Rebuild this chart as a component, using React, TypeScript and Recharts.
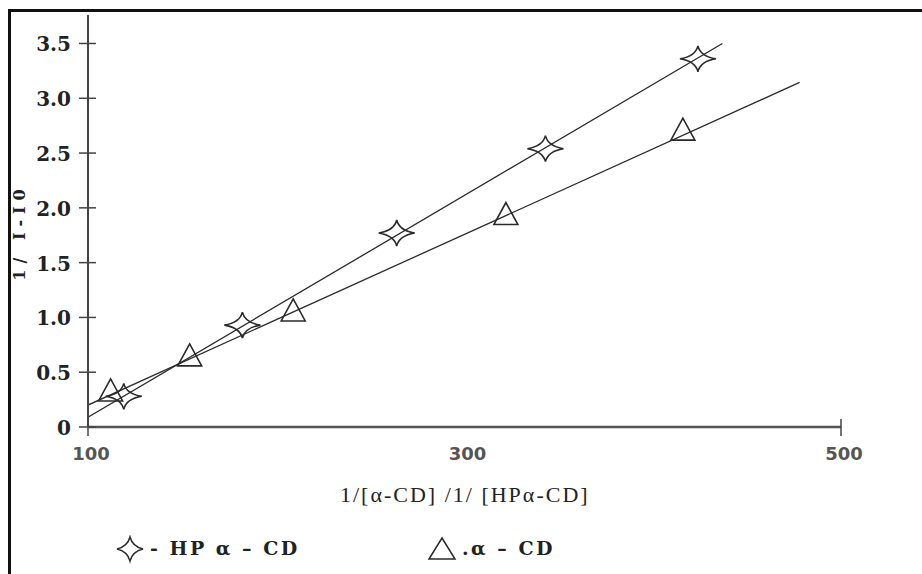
import React from 'react'
import { ComposedChart, XAxis, YAxis, Line, Scatter } from 'recharts'

// 1/[CD] values (x) and 1/(I-I0) values (y)
const hpX = [119, 182, 264, 343, 424]
const hpY = [0.28, 0.93, 1.77, 2.54, 3.36]
const cdX = [112, 154, 209, 322, 416]
const cdY = [0.32, 0.64, 1.05, 1.93, 2.7]

// end points of the fitted lines
const hpFitX = [100, 437]
const hpFitY = [0.09, 3.5]
const cdFitX = [100, 478]
const cdFitY = [0.2, 3.145]

const xTicks = [100, 300, 500]
const yTicks = [0, 0.5, 1, 1.5, 2, 2.5, 3, 3.5]

const zip = (xs: number[], ys: number[]) => xs.map((x, i) => ({ x, y: ys[i] }))

const hpPoints = zip(hpX, hpY)
const cdPoints = zip(cdX, cdY)
const hpFit = zip(hpFitX, hpFitY)
const cdFit = zip(cdFitX, cdFitY)

const INK = '#2a2a2a'

function starPath(cx: number, cy: number, w: number, h: number) {
  const k = 2.5
  return `M${cx},${cy - h} Q${cx + k},${cy - k} ${cx + w},${cy} Q${cx + k},${cy + k} ${cx},${cy + h} Q${cx - k},${cy + k} ${cx - w},${cy} Q${cx - k},${cy - k} ${cx},${cy - h} Z`
}

const StarShape = (props: any) => {
  const { cx, cy } = props
  return <path d={starPath(cx, cy, 18, 13)} fill="none" stroke={INK} strokeWidth={1.6} />
}

const TriangleShape = (props: any) => {
  const { cx, cy } = props
  return (
    <polygon
      points={`${cx},${cy - 13} ${cx + 12},${cy + 9} ${cx - 12},${cy + 9}`}
      fill="none"
      stroke={INK}
      strokeWidth={1.6}
    />
  )
}

const YTick = (props: any) => {
  const { x, y, payload } = props
  const v = payload.value
  const label = v === 0 ? '0' : v.toFixed(1)
  return (
    <g>
      <line x1={x - 9} x2={x + 8} y1={y} y2={y} stroke="#444" strokeWidth={1.5} />
      <text
        x={x - 17}
        y={y + 8}
        textAnchor="end"
        fontFamily="'DejaVu Serif', serif"
        fontWeight="bold"
        fontSize={20}
        fill="#222"
      >
        {label}
      </text>
    </g>
  )
}

const XTick = (props: any) => {
  const { x, y, payload } = props
  const v = payload.value
  return (
    <g>
      {v !== 300 && <line x1={x} x2={x} y1={y - 8} y2={y + 9} stroke="#444" strokeWidth={1.5} />}
      <text
        x={x + 3}
        y={y + 33}
        textAnchor="middle"
        fontFamily="'DejaVu Sans', sans-serif"
        fontWeight="bold"
        fontSize={18}
        fill="#555"
      >
        {v}
      </text>
    </g>
  )
}

const legendText: React.CSSProperties = {
  position: 'absolute',
  top: 536,
  fontFamily: "'DejaVu Serif', serif",
  fontWeight: 'bold',
  fontSize: 19,
  letterSpacing: 2.5,
  color: '#222',
  whiteSpace: 'nowrap',
  lineHeight: '24px',
}

export default function App() {
  return (
    <div
      style={{
        position: 'absolute',
        left: 0,
        top: 0,
        width: 922,
        height: 574,
        overflow: 'hidden',
        background: '#fff',
      }}
    >
      {/* scan frame */}
      <div
        style={{
          position: 'absolute',
          left: 8,
          top: 9,
          width: 922,
          height: 574,
          borderLeft: '3px solid #111',
          borderTop: '3px solid #111',
        }}
      />
      <div style={{ position: 'absolute', left: 0, top: 0 }}>
        <ComposedChart width={922} height={574} margin={{ top: 15, right: 81, bottom: 107, left: 0 }}>
          <XAxis
            dataKey="x"
            type="number"
            domain={[100, 500]}
            ticks={xTicks}
            allowDataOverflow
            height={40}
            tickSize={0}
            tickMargin={0}
            tick={<XTick />}
            axisLine={{ stroke: '#555', strokeWidth: 2.5 }}
            tickLine={false}
          />
          <YAxis
            type="number"
            domain={[0, 3.76]}
            ticks={yTicks}
            allowDataOverflow
            width={88}
            tickSize={0}
            tickMargin={0}
            tick={<YTick />}
            axisLine={{ stroke: '#444', strokeWidth: 2 }}
            tickLine={false}
          />
          <Line data={hpFit} dataKey="y" type="linear" stroke={INK} strokeWidth={1.3} dot={false} isAnimationActive={false} />
          <Line data={cdFit} dataKey="y" type="linear" stroke={INK} strokeWidth={1.3} dot={false} isAnimationActive={false} />
          <Scatter data={hpPoints} dataKey="y" shape={<StarShape />} isAnimationActive={false} />
          <Scatter data={cdPoints} dataKey="y" shape={<TriangleShape />} isAnimationActive={false} />
        </ComposedChart>
      </div>

      {/* y axis title */}
      <div
        style={{
          position: 'absolute',
          left: 20,
          top: 232,
          transform: 'translate(-50%, -50%) rotate(-90deg)',
          fontFamily: "'DejaVu Serif', serif",
          fontWeight: 'bold',
          fontSize: 16,
          letterSpacing: 6,
          lineHeight: '18px',
          color: '#222',
          whiteSpace: 'nowrap',
        }}
      >
        1/ I-I0
      </div>

      {/* x axis title */}
      <div
        style={{
          position: 'absolute',
          left: 340,
          top: 481,
          fontFamily: "'Liberation Serif', serif",
          fontSize: 22,
          letterSpacing: 2,
          color: '#222',
          whiteSpace: 'nowrap',
          lineHeight: '28px',
        }}
      >
        1/[α-CD] /1/ [HPα-CD]
      </div>

      {/* legend */}
      <svg style={{ position: 'absolute', left: 114, top: 535 }} width={32} height={30}>
        <path d={starPath(16, 14, 13, 12)} fill="none" stroke={INK} strokeWidth={1.5} />
      </svg>
      <div style={{ ...legendText, left: 150 }}>- HP α – CD</div>
      <svg style={{ position: 'absolute', left: 427, top: 536 }} width={30} height={26}>
        <polygon points="15,2 28,23 2,23" fill="none" stroke={INK} strokeWidth={1.5} />
      </svg>
      <div style={{ ...legendText, left: 462 }}>.α – CD</div>
    </div>
  )
}
